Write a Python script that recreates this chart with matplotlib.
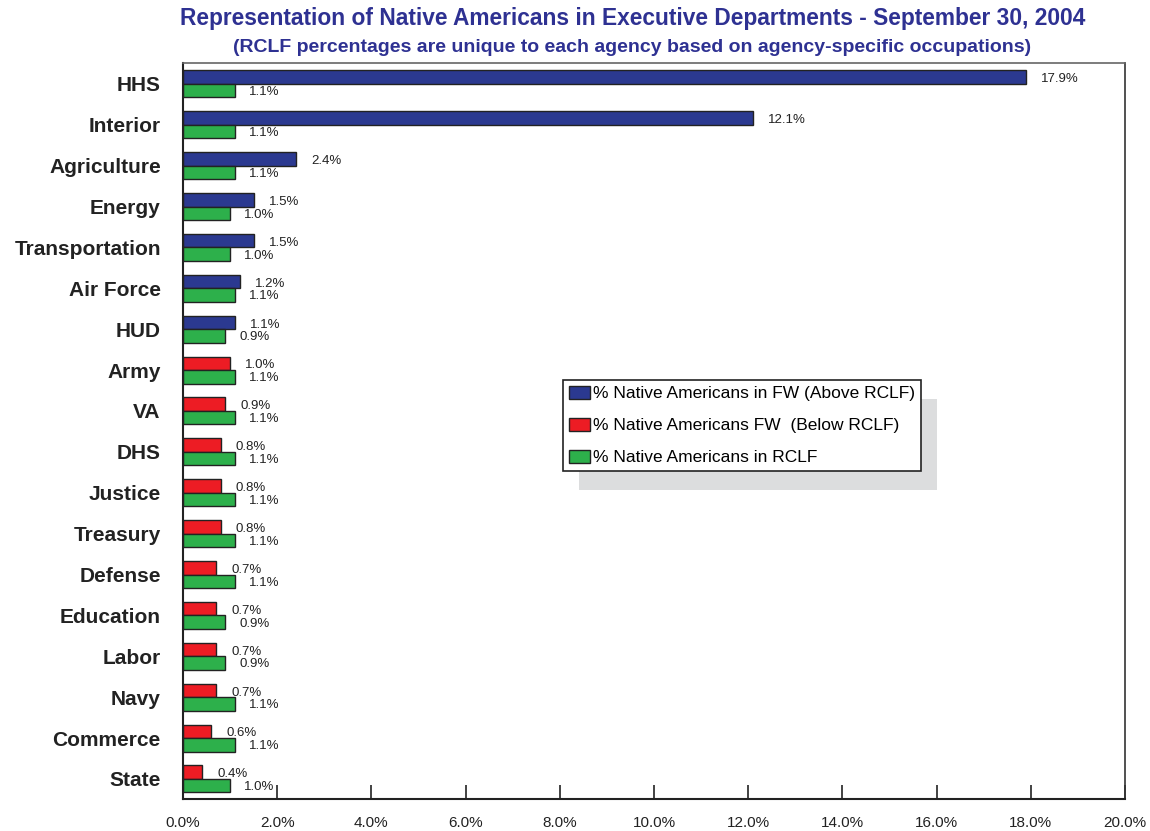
import matplotlib
matplotlib.use("Agg")
import matplotlib.pyplot as plt
from matplotlib.patches import Patch, Rectangle
import numpy as np

plt.rcParams['font.family'] = ['Liberation Sans', 'DejaVu Sans']

agencies = ["HHS", "Interior", "Agriculture", "Energy", "Transportation", "Air Force",
            "HUD", "Army", "VA", "DHS", "Justice", "Treasury", "Defense", "Education",
            "Labor", "Navy", "Commerce", "State"]
fw_pct = [17.9, 12.1, 2.4, 1.5, 1.5, 1.2, 1.1, 1.0, 0.9, 0.8, 0.8, 0.8, 0.7, 0.7,
          0.7, 0.7, 0.6, 0.4]
rclf_pct = [1.1, 1.1, 1.1, 1.0, 1.0, 1.1, 0.9, 1.1, 1.1, 1.1, 1.1, 1.1, 1.1, 0.9,
            0.9, 1.1, 1.1, 1.0]
x_ticks = [0, 2, 4, 6, 8, 10, 12, 14, 16, 18, 20]
legend_labels = ["% Native Americans in FW (Above RCLF)",
                 "% Native Americans FW  (Below RCLF)",
                 "% Native Americans in RCLF"]

BLUE = "#2B3990"
RED = "#ED1C24"
GREEN = "#2DB04B"
EDGE = "#222222"
NAVY = "#2E3192"

fig = plt.figure(figsize=(11.5, 8.31), dpi=100)
ax = fig.add_axes([183/1150, 32/831, (1125-183)/1150, (799-63)/831])

y = np.arange(len(agencies))
h = 0.33
fw_colors = [BLUE if f > r else RED for f, r in zip(fw_pct, rclf_pct)]
ax.barh(y - h/2, fw_pct, height=h, color=fw_colors, edgecolor=EDGE, linewidth=1)
ax.barh(y + h/2, rclf_pct, height=h, color=GREEN, edgecolor=EDGE, linewidth=1)

for i, (f, r) in enumerate(zip(fw_pct, rclf_pct)):
    ax.annotate(f"{f:.1f}%", (f, i - h/2), xytext=(11, -1.5), textcoords="offset points",
                va="center", ha="left", fontsize=9.5, color="#222222")
    ax.annotate(f"{r:.1f}%", (r, i + h/2), xytext=(10, -1), textcoords="offset points",
                va="center", ha="left", fontsize=9.5, color="#222222")

ax.set_xlim(0, 20)
ax.set_ylim(len(agencies) - 0.51, -0.51)
ax.set_xticks(x_ticks)
ax.set_xticklabels([f"{t:.1f}%" for t in x_ticks], fontsize=11)
ax.set_yticks(y)
ax.set_yticklabels(agencies, fontsize=15, fontweight="bold", color="#222222")
ax.tick_params(axis="x", direction="in", length=10, width=1.2, pad=12, colors="#222222")
ax.tick_params(axis="y", length=0, pad=16)
for s in ["left", "bottom"]:
    ax.spines[s].set_linewidth(1.5)
    ax.spines[s].set_color("#222222")
ax.spines["top"].set_color("#666666")
ax.spines["top"].set_linewidth(1.2)
ax.spines["right"].set_color("#333333")
ax.spines["right"].set_linewidth(1.2)

fig.text(0.55, 1 - 18/831, "Representation of Native Americans in Executive Departments - September 30, 2004",
         ha="center", va="center", fontsize=16.4, fontweight="bold", color=NAVY)
fig.text(0.55, 1 - 47/831, "(RCLF percentages are unique to each agency based on agency-specific occupations)",
         ha="center", va="center", fontsize=14, fontweight="bold", color=NAVY)

handles = [Patch(facecolor=BLUE, edgecolor=EDGE),
           Patch(facecolor=RED, edgecolor=EDGE),
           Patch(facecolor=GREEN, edgecolor=EDGE)]
leg = fig.legend(handles, legend_labels, loc="upper left",
                 bbox_to_anchor=(563/1150, 1 - 380/831), fontsize=12.5,
                 frameon=True, fancybox=False, edgecolor="#222222", framealpha=1,
                 handlelength=1.2, handleheight=0.75, handletextpad=0.15,
                 labelspacing=0.95, borderpad=0.35, borderaxespad=0)
leg.get_frame().set_linewidth(1.2)
leg.set_zorder(5)

fig.canvas.draw()
bb = leg.get_window_extent()
shadow = Rectangle((bb.x0 + 16, bb.y0 - 19), bb.width, bb.height, transform=None,
                   facecolor="#DCDDDE", edgecolor="none", zorder=4)
fig.add_artist(shadow)

fig.savefig("out.png", dpi=100, facecolor="white")
